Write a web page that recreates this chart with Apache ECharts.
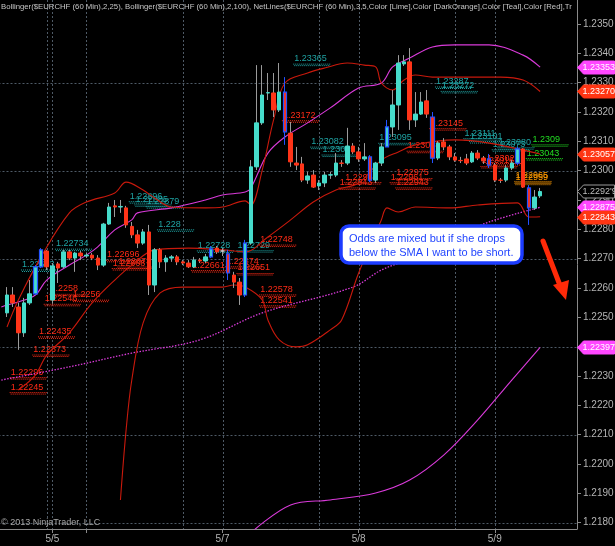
<!DOCTYPE html>
<html><head><meta charset="utf-8">
<script src="https://cdn.jsdelivr.net/npm/echarts@6/dist/echarts.min.js"></script>
<style>html,body{margin:0;padding:0;background:#000;}#c{width:615px;height:546px;}</style>
</head><body><div id="c"></div>
<script>
// ---------- DATA ----------
const slotCount = 102;           // hourly slots on the category axis
const firstCandleSlot = 1;
const candleOpen = [1.22515,1.22576,1.22535,1.22447,1.22549,1.22580,1.22672,1.22726,1.22559,1.22682,
1.22672,1.22723,1.22702,1.22719,1.22709,1.22712,1.22702,1.22678,1.22818,1.22880,
1.22876,1.22873,1.22810,1.22781,1.22753,1.22791,1.22610,1.22730,1.22689,1.22702,
1.22706,1.22689,1.22685,1.22672,1.22695,1.22692,1.22706,1.22736,1.22726,1.22716,
1.22644,1.22620,1.22576,1.22753,1.23013,1.23163,1.23265,1.23265,1.23207,1.23268,
1.23128,1.23026,1.23023,1.22968,1.22985,1.22948,1.22958,1.22985,1.22985,1.23026,
1.23026,1.23084,1.23064,1.23040,1.23047,1.22968,1.23026,1.23081,1.23149,1.23224,
1.23364,1.23371,1.23173,1.23193,1.23238,1.23183,1.23043,1.23098,1.23081,1.23047,
1.23035,1.23040,1.23030,1.23060,1.23043,1.23040,1.23019,1.22968,1.22968,1.23009,
1.23026,1.23074,1.22941,1.22873,1.22914];
const candleClose = [1.22576,1.22549,1.22447,1.22549,1.22580,1.22672,1.22730,1.22672,1.22675,1.22668,
1.22723,1.22702,1.22719,1.22709,1.22712,1.22702,1.22678,1.22818,1.22876,1.22876,
1.22878,1.22815,1.22781,1.22753,1.22791,1.22610,1.22730,1.22689,1.22702,1.22706,
1.22689,1.22685,1.22672,1.22695,1.22692,1.22706,1.22733,1.22723,1.22726,1.22651,
1.22620,1.22576,1.22753,1.23013,1.23163,1.23258,1.23266,1.23207,1.23268,1.23132,
1.23030,1.23019,1.22968,1.22982,1.22944,1.22958,1.22985,1.22986,1.23026,1.23025,
1.23084,1.23064,1.23040,1.23047,1.22968,1.23026,1.23081,1.23149,1.23224,1.23367,
1.23371,1.23173,1.23193,1.23234,1.23193,1.23043,1.23094,1.23081,1.23047,1.23036,
1.23034,1.23026,1.23060,1.23043,1.23033,1.23019,1.22968,1.22967,1.23009,1.23026,
1.23074,1.22944,1.22873,1.22910,1.22929];
const candleLow = [1.22501,1.22535,1.22389,1.22433,1.22542,1.22576,1.22668,1.22661,1.22546,1.22617,
1.22668,1.22695,1.22655,1.22695,1.22702,1.22695,1.22661,1.22672,1.22815,1.22842,
1.22856,1.22805,1.22770,1.22736,1.22747,1.22576,1.22586,1.22668,1.22655,1.22689,
1.22678,1.22678,1.22668,1.22668,1.22685,1.22685,1.22702,1.22716,1.22709,1.22627,
1.22600,1.22542,1.22569,1.22747,1.23002,1.23156,1.23241,1.23183,1.23200,1.23088,
1.23013,1.23002,1.22961,1.22955,1.22941,1.22934,1.22944,1.22972,1.22978,1.23013,
1.23019,1.23057,1.23030,1.23033,1.22961,1.22958,1.23016,1.23081,1.23115,1.23139,
1.23357,1.23139,1.23149,1.23190,1.23180,1.23026,1.23036,1.23070,1.23036,1.23030,
1.23026,1.23019,1.23026,1.23036,1.23023,1.23009,1.22961,1.22958,1.22961,1.23002,
1.23019,1.22941,1.22815,1.22866,1.22907];
const candleHigh = [1.22603,1.22603,1.22549,1.22566,1.22627,1.22678,1.22736,1.22730,1.22685,1.22689,
1.22730,1.22730,1.22723,1.22726,1.22719,1.22719,1.22712,1.22822,1.22890,1.22900,
1.22900,1.22880,1.22825,1.22798,1.22801,1.22815,1.22736,1.22736,1.22712,1.22712,
1.22712,1.22695,1.22695,1.22706,1.22702,1.22716,1.22743,1.22743,1.22736,1.22730,
1.22655,1.22634,1.22764,1.23036,1.23360,1.23360,1.23333,1.23333,1.23367,1.23319,
1.23166,1.23081,1.23047,1.22996,1.23002,1.22968,1.22996,1.22996,1.23060,1.23036,
1.23146,1.23094,1.23081,1.23094,1.23053,1.23030,1.23094,1.23173,1.23275,1.23394,
1.23394,1.23418,1.23268,1.23268,1.23275,1.23200,1.23101,1.23111,1.23088,1.23060,
1.23047,1.23057,1.23067,1.23070,1.23050,1.23057,1.23026,1.22975,1.23019,1.23036,
1.23081,1.23077,1.22951,1.22934,1.22941];
// candles painted with the blue outline
const outlinedCandles = [5,6,36,39,42,49,64,67,75,85,90,92];

// Bollinger (2,100) – magenta
const bb100UpSlots = [0,1,3,6,8,12,15,17,20,23,24,30,36,39,43,44,47,50,54,58,63,67,69,72,76,80,86,92,95];
const bb100UpVals = [1.22535,1.22542,1.22552,1.22576,1.22627,1.22678,1.22712,1.22740,1.22798,1.22832,1.22856,1.22873,1.22900,1.22917,1.22927,1.22941,1.23060,1.23115,1.23163,1.23214,1.23282,1.23299,1.23354,1.23384,1.23422,1.23429,1.23429,1.23394,1.23353];
const bb100MidSlots = [0,12,23,35,46,62,67,73,80,86,95];
const bb100MidVals = [1.22286,1.22331,1.22378,1.22423,1.22515,1.22603,1.22661,1.22706,1.22774,1.22825,1.22875];
const bb100LowSlots = [44,51,58,66,72,78,84,90,95];
const bb100LowVals = [1.21765,1.21860,1.21877,1.21901,1.21945,1.22030,1.22150,1.22286,1.22397];
// Bollinger (2,25) – red
const bb25UpSlots = [1,3,7,12,15,20,22,25,27,30,36,39,43,44,46,48,50,54,57,61,64,66,67,69,71,73,76,81,88,92,95];
const bb25UpVals = [1.22467,1.22559,1.22706,1.22856,1.22893,1.22924,1.22961,1.22934,1.22907,1.22876,1.22873,1.22876,1.22897,1.22883,1.23002,1.23173,1.23299,1.23333,1.23350,1.23367,1.23360,1.23354,1.23299,1.23275,1.23309,1.23326,1.23319,1.23319,1.23319,1.23309,1.23270];
const bb25MidSlots = [3,6,8,12,16,20,23,27,33,39,43,47,51,55,59,63,67,70,73,80,86,95];
const bb25MidVals = [1.22252,1.22303,1.22371,1.22447,1.22549,1.22627,1.22678,1.22730,1.22736,1.22730,1.22723,1.22774,1.22832,1.22893,1.22934,1.22958,1.23036,1.23064,1.23088,1.23105,1.23094,1.23057];
const bb25LowSlots = [21,22,23,25,28,32,39,41,43,46,47,49,52,54,58,60,63,67,68,70,73,79,84,91,93,95];
const bb25LowVals = [1.21877,1.22116,1.22286,1.22481,1.22583,1.22603,1.22603,1.22610,1.22603,1.22559,1.22491,1.22423,1.22399,1.22406,1.22457,1.22491,1.22651,1.22832,1.22873,1.22859,1.22876,1.22873,1.22883,1.22890,1.22842,1.22843];

// NetLines levels
const netLabels = ['1.22734','1.22663','1.228','1.22896','1.22885','1.22879','1.22728','1.22729','1.23365','1.23082','1.23055','1.23095','1.23287','1.23272','1.23111','1.23101','1.23073','1.23080',
'1.22696','1.22673','1.22668','1.2258','1.22546','1.2256','1.22435','1.22373','1.22296','1.22245','1.22748','1.22578','1.22541','1.22661','1.22674','1.22651','1.23172','1.23145','1.23068','1.23026','1.23016','1.22943','1.22961','1.22975','1.22961','1.22943',
'1.2309','1.23043','1.22965','1.22959'];
const netKinds = ['teal','teal','teal','teal','teal','teal','teal','teal','teal','teal','teal','teal','teal','teal','teal','teal','teal','teal',
'red','red','red','red','red','red','red','red','red','red','red','red','red','red','red','red','red','red','red','red','red','red','red','red','red','red',
'lime','lime','orange','orange'];
const netStartSlots = [10,4,28,23,24,26,35,42,52,55,57,67,77,78,82,83,87,88,
19,21,20,9,8,13,7,6,2,2,46,46,46,34,40,42,50,76,72,86,85,60,61,70,69,70,
94,93,91,91];

// right-edge price markers
const tagLabels = ['1.23353','1.23270','1.23057',"1.2292'9",'1.22875','1.22843','1.22397'];
const tagPrices = [1.23353,1.23270,1.23057,1.22929,1.22875,1.22843,1.22397];
const tagKinds = ['bb100','bb25','bb25','last','bb100','bb25','bb100'];

// axes
const yTicks = [1.2180,1.2190,1.2200,1.2210,1.2220,1.2230,1.2240,1.2250,1.2260,1.2270,1.2280,1.2290,1.2300,1.2310,1.2320,1.2330,1.2340,1.2350];
const hGridLevels = [1.2180,1.2210,1.2240,1.2270,1.2300,1.2330];
const vGridSlots = [8,9,15,32,39,56,63,80,87];
const dateSlots = [9,15,39,63,87];
const dateLabels = ['5/5','','5/7','5/8','5/9'];

const headerText = 'Bollinger($EURCHF (60 Min),2,25), Bollinger($EURCHF (60 Min),2,100), NetLines($EURCHF (60 Min),3,5,Color [Lime],Color [DarkOrange],Color [Teal],Color [Red],Tr';
const noteLines = ['Odds are mixed but if she drops', 'below the SMA I want to be short.'];

// ---------- BUILD ----------
const cats = []; for (let i = 0; i < slotCount; i++) cats.push(String(i));
function sparse(slots, vals) {
  const a = new Array(slotCount).fill(null);
  slots.forEach((s, k) => { a[s] = vals[k]; });
  return a;
}
const UP = '#46dccb', DOWN = '#ff3418', WICK = '#9b9b9b', BLUE = '#2452ff', GRIDC = '#4e5a66';
const wickData = [], bodyData = [];
for (let s = 0; s < slotCount; s++) {
  const i = s - firstCandleSlot;
  if (i < 0 || i >= candleOpen.length) { wickData.push('-'); bodyData.push('-'); continue; }
  const o = candleOpen[i], c = candleClose[i];
  const hl = outlinedCandles.indexOf(i) >= 0;
  const w = { value: [o, c, candleLow[i], candleHigh[i]] };
  if (hl) w.itemStyle = { color: BLUE, color0: BLUE, borderColor: BLUE, borderColor0: BLUE, borderColorDoji: BLUE };
  wickData.push(w);
  const b = { value: [o, c, Math.min(o, c), Math.max(o, c)] };
  if (hl) b.itemStyle = { borderColor: BLUE, borderColor0: BLUE, borderWidth: 1.2 };
  bodyData.push(b);
}
const netColor = { teal: '#1fa4a4', red: '#ff2b16', lime: '#22dd22', orange: '#ff9a00' };
const tagColor = { bb100: '#ff46ff', bb25: '#ff3513', last: '#000' };

function lineSeries(slots, vals, color, dotted) {
  return { type: 'line', data: sparse(slots, vals), connectNulls: true, smooth: 0.35, showSymbol: false, symbol: 'none',
    silent: true, z: 3, lineStyle: { color: color, width: dotted ? 1.3 : 1.1, type: dotted ? [1.5, 1.5] : 'solid' } };
}

const chart = echarts.init(document.getElementById('c'), null, { renderer: 'canvas' });
chart.setOption({
  animation: false,
  backgroundColor: '#000',
  grid: { left: -1.5, right: 38, top: 0, bottom: 17, containLabel: false, outerBoundsMode: 'none' },
  xAxis: {
    type: 'category', data: cats, boundaryGap: true,
    axisLine: { show: true, lineStyle: { color: '#8a8a8a', width: 1 } },
    axisTick: { show: true, alignWithLabel: true, length: 4, lineStyle: { color: '#8a8a8a' },
      interval: function (idx) { return dateSlots.indexOf(idx) >= 0; } },
    axisLabel: { color: '#b4b4b4', fontSize: 10, fontFamily: 'Arial', margin: 5,
      interval: function (idx) { return dateSlots.indexOf(idx) >= 0; },
      formatter: function (v, idx) { const k = dateSlots.indexOf(idx); return k >= 0 ? dateLabels[k] : ''; } },
    splitLine: { show: false }
  },
  yAxis: {
    type: 'value', position: 'right', min: 1.21778, max: 1.23582, scale: true,
    axisLine: { show: true, lineStyle: { color: '#8a8a8a', width: 1 } },
    axisTick: { show: true, length: 4, lineStyle: { color: '#8a8a8a' }, customValues: yTicks },
    axisLabel: { color: '#b4b4b4', fontSize: 10, fontFamily: 'Arial', margin: 6, customValues: yTicks,
      formatter: function (v) { return v.toFixed(4); } },
    splitLine: { show: false }
  },
  graphic: [
    { type: 'text', left: 1, top: 3, z: 10, style: { text: headerText, fill: '#c6c6c6', font: '7.75px Arial', width: 576, overflow: 'truncate', ellipsis: '' } },
    { type: 'text', left: 1, top: 518, z: 10, style: { text: '\u00a9 2013 NinjaTrader, LLC', fill: '#a8a8a8', font: '9px Arial' } },
    { type: 'rect', z: 20, shape: { x: 341, y: 226, width: 181, height: 37, r: 8 }, style: { fill: '#fff', stroke: '#1c3cff', lineWidth: 3.5 } },
    { type: 'text', z: 21, x: 349, y: 232, style: { text: noteLines.join('\n'), fill: '#2346ff', font: '11px Arial', lineHeight: 14 } },
    { type: 'line', z: 20, shape: { x1: 543, y1: 241, x2: 561, y2: 288 }, style: { stroke: '#ff2a08', lineWidth: 5, lineCap: 'round' } },
    { type: 'polygon', z: 20, shape: { points: [[553, 285], [569, 280], [566, 300]] }, style: { fill: '#ff2a08' } }
  ],
  series: [
    { type: 'custom', z: 1, silent: true, clip: true,
      data: hGridLevels.map(v => [0, v]), encode: { x: 0, y: 1 },
      renderItem: function (params, api) {
        const cs = params.coordSys;
        const y = Math.round(api.coord([0, api.value(1)])[1]) + 0.5;
        return { type: 'line', shape: { x1: cs.x, y1: y, x2: cs.x + cs.width, y2: y }, style: { stroke: GRIDC, lineWidth: 1, lineDash: [2, 2] } };
      } },
    { type: 'custom', z: 1, silent: true, clip: true,
      data: vGridSlots.map(s => [s, hGridLevels[0]]), encode: { x: 0, y: 1 },
      renderItem: function (params, api) {
        const cs = params.coordSys;
        const x = Math.round(api.coord([api.value(0), api.value(1)])[0]) + 0.5;
        return { type: 'line', shape: { x1: x, y1: cs.y, x2: x, y2: cs.y + cs.height }, style: { stroke: GRIDC, lineWidth: 1, lineDash: [2, 2] } };
      } },
    { type: 'custom', z: 2, silent: true, clip: true,
      data: netLabels.map((t, i) => [netStartSlots[i], netStartSlots[i] + 6, parseFloat(t)]),
      encode: { x: [0, 1], y: 2 },
      renderItem: function (params, api) {
        const i = params.dataIndex;
        const a = api.coord([api.value(0), api.value(2)]);
        const b = api.coord([api.value(1), api.value(2)]);
        const col = netColor[netKinds[i]];
        const x0 = a[0] - 3;
        return { type: 'group', children: [
          { type: 'line', shape: { x1: x0, y1: a[1] + 0.5, x2: b[0], y2: a[1] + 0.5 }, style: { stroke: col, lineWidth: 1, lineDash: [1, 1] } },
          { type: 'line', shape: { x1: x0 + 1, y1: a[1] + 2, x2: b[0], y2: a[1] + 2 }, style: { stroke: col, lineWidth: 1, lineDash: [1, 1] } },
          { type: 'text', style: { text: netLabels[i], x: x0 + 1, y: a[1] - 0.5, fill: col, font: '9px Arial', align: 'left', verticalAlign: 'bottom' } }
        ] };
      } },
    lineSeries(bb100UpSlots, bb100UpVals, '#d93ad9', false),
    lineSeries(bb100MidSlots, bb100MidVals, '#d93ad9', true),
    lineSeries(bb100LowSlots, bb100LowVals, '#d93ad9', false),
    lineSeries(bb25UpSlots, bb25UpVals, '#c8190c', false),
    lineSeries(bb25MidSlots, bb25MidVals, '#c8190c', false),
    lineSeries(bb25LowSlots, bb25LowVals, '#c8190c', false),
    { type: 'candlestick', data: wickData, barWidth: 1, z: 4, silent: true,
      itemStyle: { color: WICK, color0: WICK, borderColor: WICK, borderColor0: WICK, borderColorDoji: WICK, borderWidth: 1 } },
    { type: 'candlestick', data: bodyData, barWidth: 4, z: 5, silent: true,
      itemStyle: { color: UP, color0: DOWN, borderColor: UP, borderColor0: DOWN, borderColorDoji: '#cfcfcf', borderWidth: 1 } },
    { type: 'custom', z: 10, silent: true, clip: false,
      data: tagPrices.map(p => [firstCandleSlot + candleOpen.length - 1, p]),
      encode: { x: 0, y: 1 },
      renderItem: function (params, api) {
        const i = params.dataIndex;
        const y = Math.round(api.coord([api.value(0), api.value(1)])[1]) + 0.5;
        const x0 = params.coordSys.x + params.coordSys.width + 0.5;
        const k = tagKinds[i];
        const isLast = k === 'last';
        return { type: 'group', children: [
          { type: 'polygon', shape: { points: [[x0, y], [x0 + 6, y - 6.5], [x0 + 37, y - 6.5], [x0 + 37, y + 6.5], [x0 + 6, y + 6.5]] },
            style: { fill: tagColor[k], stroke: isLast ? '#9a9a9a' : tagColor[k], lineWidth: 1 } },
          { type: 'text', style: { text: tagLabels[i], x: x0 + 5, y: y + 0.5, fill: isLast ? '#bdbdbd' : '#fff', font: '9px Arial', align: 'left', verticalAlign: 'middle' } }
        ] };
      } }
  ]
});
</script>
</body></html>
